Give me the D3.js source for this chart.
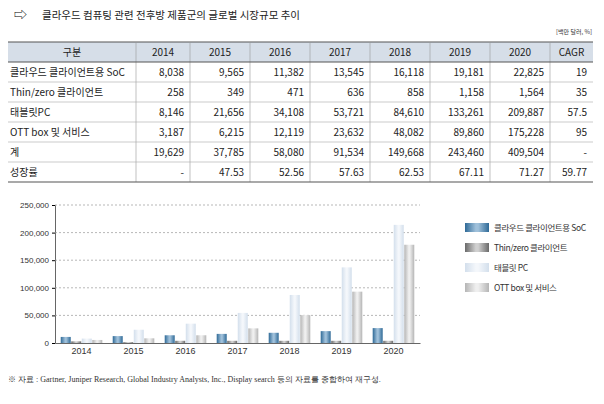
<!DOCTYPE html><html><head><meta charset="utf-8"><script src="https://cdn.jsdelivr.net/npm/d3@7"></script>
<style>body{margin:0;background:#fff;font-family:"Noto Sans CJK KR","Noto Sans",sans-serif}</style></head><body><svg id="c" width="604" height="404"></svg><script>
const years=["2014","2015","2016","2017","2018","2019","2020"];
const headers=["구분","2014","2015","2016","2017","2018","2019","2020","CAGR"];
const rowLabels=["클라우드 클라이언트용 SoC","Thin/zero 클라이언트","태블릿PC","OTT box 및 서비스","계","성장률"];
const rowValues=[["8,038","9,565","11,382","13,545","16,118","19,181","22,825","19"],["258","349","471","636","858","1,158","1,564","35"],["8,146","21,656","34,108","53,721","84,610","133,261","209,887","57.5"],["3,187","6,215","12,119","23,632","48,082","89,860","175,228","95"],["19,629","37,785","58,080","91,534","149,668","243,460","409,504","-"],["-","47.53","52.56","57.63","62.53","67.11","71.27","59.77"]];
const seriesNames=["클라우드 클라이언트용 SoC","Thin/zero 클라이언트","태블릿 PC","OTT box 및 서비스"];
const soc=[11000,12500,14000,16500,18500,21500,27000];
const thin=[3000,1500,4000,4000,4000,4000,4000];
const tablet=[8000,24000,35000,54500,87000,137000,214000];
const ott=[5500,8500,14000,26500,50500,93000,178000];
const yTicks=[0,50000,100000,150000,200000,250000];
const series=[soc,thin,tablet,ott];
const cols=[["#9fc0da","#2f6a97"],["#d0d0d0","#6a6a6a"],["#f4f7fb","#d3dfec"],["#efefef","#b5b5b5"]];
const svg=d3.select("#c");
const defs=svg.append("defs");
cols.forEach((c,i)=>{const g=defs.append("linearGradient").attr("id","g"+i);
g.append("stop").attr("offset","0%").attr("stop-color",c[1]);g.append("stop").attr("offset","45%").attr("stop-color",c[0]);g.append("stop").attr("offset","55%").attr("stop-color",c[0]);g.append("stop").attr("offset","100%").attr("stop-color",c[1]);});
svg.append("text").attr("x",14).attr("y",19).attr("font-size",13).text("⇨");
svg.append("text").attr("x",42).attr("y",19).attr("font-size",10.5).attr("fill","#222").text("클라우드 컴퓨팅 관련 전후방 제품군의 글로벌 시장규모 추이");
svg.append("text").attr("x",592).attr("y",34).attr("font-size",6).attr("text-anchor","end").attr("fill","#333").text("[백만 달러, %]");
const edges=[8,136,190,250,310,370,430,490,550,593];
const tTop=42,hH=20,rH=20;
svg.append("rect").attr("x",edges[0]).attr("y",tTop).attr("width",edges[9]-edges[0]).attr("height",hH).attr("fill","#d6dee8");
svg.append("line").attr("x1",8).attr("x2",593).attr("y1",tTop).attr("y2",tTop).attr("stroke","#555").attr("stroke-width",1.2);
headers.forEach((h,i)=>{svg.append("text").attr("x",(edges[i]+edges[i+1])/2).attr("y",tTop+14).attr("text-anchor","middle").attr("font-size",10).attr("fill","#222").text(h);
if(i>0)svg.append("line").attr("x1",edges[i]).attr("x2",edges[i]).attr("y1",tTop).attr("y2",tTop+hH+rH*6).attr("stroke","#999").attr("stroke-width",0.6);});
rowLabels.forEach((r,j)=>{const yy=tTop+hH+rH*j;
svg.append("line").attr("x1",8).attr("x2",593).attr("y1",yy).attr("y2",yy).attr("stroke",j==0?"#555":"#aaa").attr("stroke-width",j==0?1:0.6);
svg.append("text").attr("x",10).attr("y",yy+14).attr("font-size",10).attr("fill","#222").text(r);
rowValues[j].forEach((v,k)=>svg.append("text").attr("x",edges[k+2]-6).attr("y",yy+14).attr("text-anchor","end").attr("font-size",10).attr("fill","#222").text(v));});
svg.append("line").attr("x1",8).attr("x2",593).attr("y1",tTop+hH+rH*6).attr("y2",tTop+hH+rH*6).attr("stroke","#555").attr("stroke-width",1.2);
const x=d3.scaleBand().domain(years).range([55,420]).paddingInner(0.18).paddingOuter(0.1);
const x1=d3.scaleBand().domain([0,1,2,3]).range([0,x.bandwidth()]).padding(0.05);
const y=d3.scaleLinear().domain([0,250000]).range([343,205]);
const ga=svg.append("g").attr("transform","translate(55,0)").call(d3.axisLeft(y).tickValues(yTicks).tickSize(3).tickFormat(d3.format(",")));
ga.selectAll("text").attr("font-size",8).attr("fill","#333").attr("font-family","Liberation Sans, sans-serif");
ga.select(".domain").attr("stroke","#666");
yTicks.slice(1).forEach(t=>svg.append("line").attr("x1",55).attr("x2",420).attr("y1",y(t)).attr("y2",y(t)).attr("stroke","#999").attr("stroke-dasharray","2,2").attr("stroke-width",0.7));
series.forEach((s,i)=>svg.append("g").selectAll("rect").data(s).join("rect")
 .attr("x",(d,k)=>x(years[k])+x1(i)).attr("width",x1.bandwidth()).attr("y",d=>y(d)).attr("height",d=>y(0)-y(d)).attr("fill","url(#g"+i+")"));
const gx=svg.append("g").attr("transform","translate(0,343)").call(d3.axisBottom(x).tickSize(0).tickPadding(5));
gx.selectAll("text").attr("font-size",9).attr("fill","#333").attr("font-family","Liberation Sans, sans-serif");
gx.select(".domain").attr("stroke","#666");
seriesNames.forEach((n,i)=>{const ly=228+i*20;
svg.append("rect").attr("x",465).attr("y",ly-5).attr("width",24).attr("height",9).attr("fill","url(#g"+i+")");
svg.append("text").attr("x",494).attr("y",ly+3).attr("font-size",8.5).attr("fill","#333").attr("letter-spacing",-0.4).text(n);});
svg.append("text").attr("x",8).attr("y",382).attr("font-size",8).attr("fill","#333").attr("font-family","Liberation Serif, serif").text("※ 자료 : Gartner, Juniper Research, Global  Industry Analysts, Inc., Display search 등의 자료를 종합하여 재구성.");
</script></body></html>
